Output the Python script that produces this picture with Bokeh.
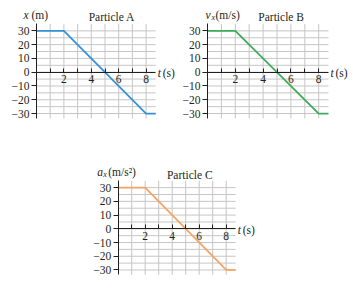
from bokeh.plotting import figure
from bokeh.models import Range1d, FixedTicker, Label, Spacer
from bokeh.layouts import column, row
from bokeh.embed import file_html
from bokeh.resources import INLINE

# Shared time axis and the three motion graphs
time_s = [0, 2, 8, 8.7]
position_m = [30, 30, -30, -30]
velocity_ms = [30, 30, -30, -30]
accel_ms2 = [30, 30, -30, -30]

x_ticks = [1, 2, 3, 4, 5, 6, 7, 8]
x_tick_labels = ["", "2", "", "4", "", "6", "", "8"]
y_ticks = [-30, -20, -10, 0, 10, 20, 30]
y_tick_labels = ["\u221230", "\u221220", "\u221210", "0", "10", "20", "30"]
grid_x = [1, 2, 3, 4, 5, 6, 7, 8]
grid_y = [-30, -25, -20, -15, -10, -5, 0, 5, 10, 15, 20, 25, 30]

# extent of the drawn axes / grid in data units
T_MIN, T_MAX = 0, 8.7
Y_MIN, Y_MAX = -33.5, 35

SERIF = "Liberation Serif"
FS = "11.5px"
INK = "#231f20"
GRID = "#c6c6c6"


def add_text(p, x, y, text, dx, dy, italic=False, size=FS, align="left"):
    p.add_layout(Label(x=x, y=y, x_offset=dx, y_offset=dy, text=text,
                       text_font=SERIF, text_font_size=size,
                       text_font_style="italic" if italic else "normal",
                       text_color=INK, text_align=align,
                       text_baseline="middle"))


def panel(width, height, ox, oy, sx, sy, ys, color):
    """ox, oy: pixel position of the origin; sx, sy: pixels per unit."""
    p = figure(width=width, height=height,
               x_range=Range1d(-ox / sx, (width - ox) / sx),
               y_range=Range1d((oy - height) / sy, oy / sy),
               output_backend="svg", toolbar_location=None,
               min_border=0)
    p.title.visible = False
    p.outline_line_color = None
    p.background_fill_color = "white"
    p.border_fill_color = "white"
    p.grid.visible = False

    # light grid, limited to the plotted region
    p.segment(x0=grid_x, x1=grid_x, y0=[Y_MIN] * len(grid_x),
              y1=[Y_MAX] * len(grid_x), line_color=GRID, line_width=1)
    p.segment(x0=[T_MIN] * len(grid_y), x1=[T_MAX] * len(grid_y),
              y0=grid_y, y1=grid_y, line_color=GRID, line_width=1)

    xa = p.xaxis[0]
    xa.fixed_location = 0
    xa.bounds = (T_MIN, T_MAX)
    xa.ticker = FixedTicker(ticks=x_ticks)
    xa.major_label_overrides = dict(zip(x_ticks, x_tick_labels))
    xa.major_tick_in = 4
    xa.major_tick_out = 0
    xa.major_label_standoff = 3

    ya = p.yaxis[0]
    ya.fixed_location = 0
    ya.bounds = (Y_MIN, Y_MAX)
    ya.ticker = FixedTicker(ticks=y_ticks)
    ya.major_label_overrides = dict(zip(y_ticks, y_tick_labels))
    ya.major_tick_in = 0
    ya.major_tick_out = 5
    ya.major_label_standoff = 2

    for ax in (xa, ya):
        ax.minor_tick_in = 0
        ax.minor_tick_out = 0
        ax.axis_line_color = INK
        ax.axis_line_width = 1
        ax.major_tick_line_color = INK
        ax.major_label_text_font = SERIF
        ax.major_label_text_font_size = FS
        ax.major_label_text_color = INK

    p.line(time_s, ys, line_color=color, line_width=1.8)
    # time-axis caption at the right end of the axis
    add_text(p, T_MAX, 0, "t", 2, -1, italic=True)
    add_text(p, T_MAX, 0, "(s)", 7, -1)
    return p


pa = panel(176, 130, 36, 71.7, 13.7, 1.378, position_m, "#3592d6")
add_text(pa, 0, Y_MAX, "x", -13, 9, italic=True)
add_text(pa, 0, Y_MAX, "(m)", -5, 9)
add_text(pa, 5.5, Y_MAX, "Particle A", 0, 7, align="center")

pb = panel(177, 130, 31, 71.7, 13.9, 1.378, velocity_ms, "#3fab5c")
add_text(pb, 0, Y_MAX, "v", -2, 9, italic=True)
add_text(pb, 0, Y_MAX, "x", 4, 6, italic=True, size="8px")
add_text(pb, 0, Y_MAX, "(m/s)", 8, 9)
add_text(pb, 5.3, Y_MAX, "Particle B", 0, 7, align="center")

pc = panel(180, 131, 37.7, 68.3, 13.5, 1.372, accel_ms2, "#f6a462")
add_text(pc, 0, Y_MAX, "a", -21, 9, italic=True)
add_text(pc, 0, Y_MAX, "x", -15, 6, italic=True, size="8px")
add_text(pc, 0, Y_MAX, "(m/s\u00b2)", -10, 9)
add_text(pc, 5.3, Y_MAX, "Particle C", 0, 6, align="center")

layout = column(row(pa, pb), Spacer(height=30), row(Spacer(width=80), pc))

open("out.html", "w").write(file_html(layout, INLINE))
